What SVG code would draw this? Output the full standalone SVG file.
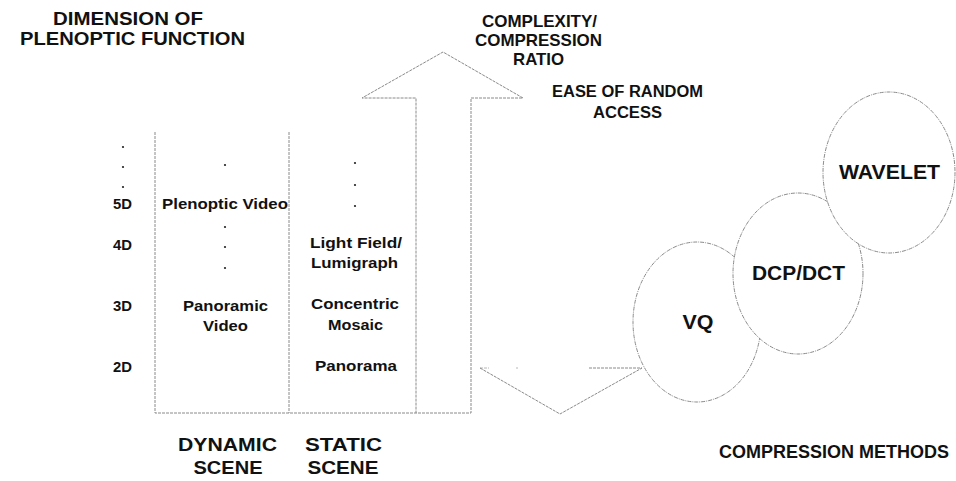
<svg xmlns="http://www.w3.org/2000/svg" width="956" height="481" viewBox="0 0 956 481">
<style>
text{font-family:"Liberation Sans",Arial,Helvetica,sans-serif;font-weight:bold;fill:#111;}
.t18{font-size:19px;}
.t16{font-size:17px;}
.t15{font-size:16px;}
.tb{font-size:15.5px;}
.big{font-size:20px;}
.ln{fill:none;stroke:#8a8a8a;stroke-width:1;stroke-dasharray:3 1;}
.sh{fill:#fff;stroke:#8a8a8a;stroke-width:1;stroke-dasharray:4 1 1 1;}
.c{text-anchor:middle;}
</style>
<rect width="956" height="481" fill="#fff"/>

<g id="title-dimension">
<text class="t18 c" x="128" y="25" textLength="150" lengthAdjust="spacingAndGlyphs">DIMENSION OF</text>
<text class="t18 c" x="132.5" y="45" textLength="225" lengthAdjust="spacingAndGlyphs">PLENOPTIC FUNCTION</text>
</g>

<g id="connectors">
<polyline class="ln" points="155,132 155,413 471,413 471,98 523,98 443,52 362,98 416,98 416,413"/>
<line class="ln" x1="289" y1="132" x2="289" y2="413"/>
<polyline class="ln" points="480,368 560,414 642,368"/>
<line class="ln" x1="480" y1="368" x2="489" y2="368" stroke-opacity="0.6"/>
<line class="ln" x1="516" y1="368" x2="518" y2="368" stroke-opacity="0.6"/>
<line class="ln" x1="589" y1="368" x2="642" y2="368"/>
</g>

<g id="arrow-labels">
<text class="t16 c" x="539.5" y="27" textLength="115" lengthAdjust="spacingAndGlyphs">COMPLEXITY/</text>
<text class="t16 c" x="538.5" y="45.5" textLength="127" lengthAdjust="spacingAndGlyphs">COMPRESSION</text>
<text class="t16 c" x="538.5" y="65" textLength="51" lengthAdjust="spacingAndGlyphs">RATIO</text>
<text class="t15 c" x="627.5" y="97" textLength="151" lengthAdjust="spacingAndGlyphs">EASE OF RANDOM</text>
<text class="t15 c" x="627.5" y="118" textLength="69" lengthAdjust="spacingAndGlyphs">ACCESS</text>
</g>

<g id="dimension-labels">
<circle cx="123" cy="147" r="1.1" fill="#222"/>
<circle cx="123" cy="167" r="1.1" fill="#222"/>
<circle cx="123" cy="187" r="1.1" fill="#222"/>
<text class="tb" x="113" y="209" textLength="19" lengthAdjust="spacingAndGlyphs">5D</text>
<text class="tb" x="113" y="250" textLength="19" lengthAdjust="spacingAndGlyphs">4D</text>
<text class="tb" x="113" y="311" textLength="19" lengthAdjust="spacingAndGlyphs">3D</text>
<text class="tb" x="113" y="372" textLength="19" lengthAdjust="spacingAndGlyphs">2D</text>
</g>

<g id="dynamic-column">
<circle cx="225" cy="165" r="1.1" fill="#222"/>
<text class="tb c" x="225" y="209" textLength="126" lengthAdjust="spacingAndGlyphs">Plenoptic Video</text>
<circle cx="225" cy="227" r="1.1" fill="#222"/>
<circle cx="225" cy="247" r="1.1" fill="#222"/>
<circle cx="225" cy="268" r="1.1" fill="#222"/>
<text class="tb c" x="225.5" y="311" textLength="85" lengthAdjust="spacingAndGlyphs">Panoramic</text>
<text class="tb c" x="225.5" y="331" textLength="45" lengthAdjust="spacingAndGlyphs">Video</text>
</g>

<g id="static-column">
<circle cx="355" cy="163" r="1.1" fill="#222"/>
<circle cx="355" cy="185" r="1.1" fill="#222"/>
<circle cx="355" cy="206" r="1.1" fill="#222"/>
<text class="tb c" x="356" y="248" textLength="92" lengthAdjust="spacingAndGlyphs">Light Field/</text>
<text class="tb c" x="354.5" y="268" textLength="87" lengthAdjust="spacingAndGlyphs">Lumigraph</text>
<text class="tb c" x="355" y="309" textLength="88" lengthAdjust="spacingAndGlyphs">Concentric</text>
<text class="tb c" x="355.5" y="330" textLength="55" lengthAdjust="spacingAndGlyphs">Mosaic</text>
<text class="tb c" x="356" y="371" textLength="82" lengthAdjust="spacingAndGlyphs">Panorama</text>
</g>

<g id="scene-labels">
<text class="t18 c" x="227.5" y="451" textLength="99" lengthAdjust="spacingAndGlyphs">DYNAMIC</text>
<text class="t18 c" x="228" y="474" textLength="69" lengthAdjust="spacingAndGlyphs">SCENE</text>
<text class="t18 c" x="343.5" y="451" textLength="77" lengthAdjust="spacingAndGlyphs">STATIC</text>
<text class="t18 c" x="343" y="474" textLength="71" lengthAdjust="spacingAndGlyphs">SCENE</text>
</g>

<g id="vq">
<ellipse class="sh" cx="697" cy="322" rx="64" ry="80"/>
<text class="big c" x="698" y="329" textLength="31" lengthAdjust="spacingAndGlyphs">VQ</text>
</g>
<g id="dcp-dct">
<ellipse class="sh" cx="798" cy="273.5" rx="65" ry="80.5"/>
<text class="big c" x="798.5" y="280" textLength="93" lengthAdjust="spacingAndGlyphs">DCP/DCT</text>
</g>
<g id="wavelet">
<ellipse class="sh" cx="889" cy="172.5" rx="66" ry="80.5"/>
<text class="big c" x="889.5" y="179" textLength="101" lengthAdjust="spacingAndGlyphs">WAVELET</text>
</g>

<g id="compression-methods">
<text class="c" style="font-size:18px" x="834" y="458">COMPRESSION METHODS</text>
</g>
</svg>
